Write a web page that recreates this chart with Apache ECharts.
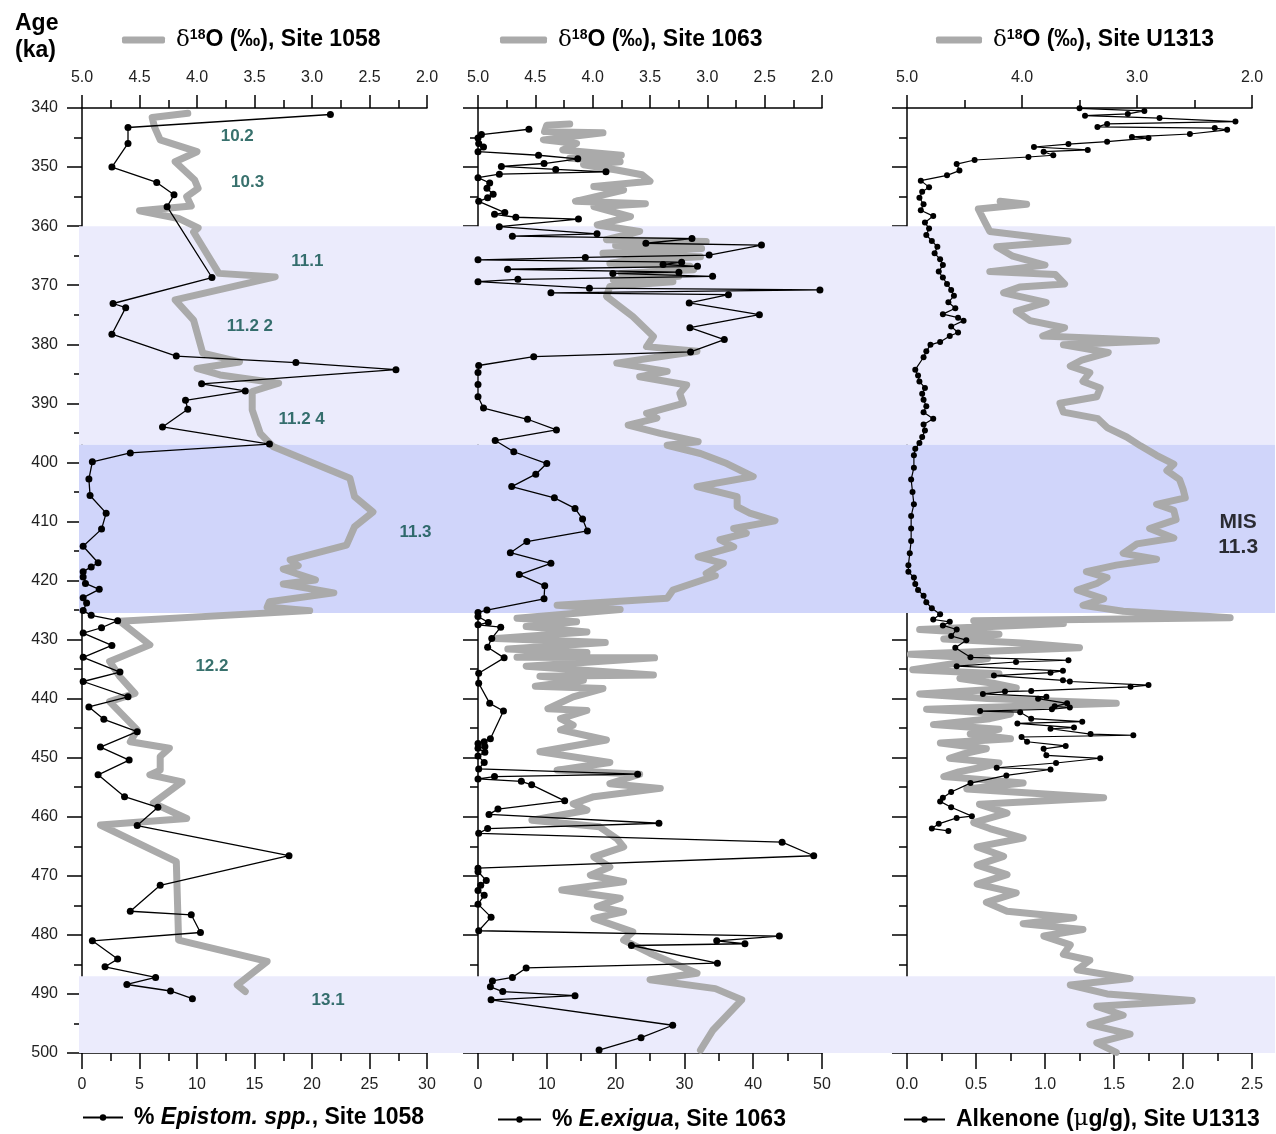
<!DOCTYPE html>
<html><head><meta charset="utf-8">
<script src="https://cdn.jsdelivr.net/npm/echarts@6/dist/echarts.min.js"></script>
<style>html,body{margin:0;padding:0;background:#fff}#c{width:1276px;height:1134px}</style>
</head><body><div id="c"></div>
<script>
// ---------------- DATA ----------------
// Site 1058 : % Epistominella spp.
const epiAge = [341.1,343.3,346.0,350.0,352.6,354.7,356.7,368.7,373.1,373.8,378.3,382.0,383.1,384.3,386.7,387.9,389.5,391.0,394.0,396.9,398.4,399.9,402.8,405.6,408.6,411.3,414.2,417.0,417.7,418.5,419.4,420.5,421.5,422.9,423.8,425.1,425.9,426.8,428.0,428.9,431.0,433.0,435.5,437.1,439.7,441.4,443.5,445.6,448.2,450.4,452.9,456.6,458.4,461.5,466.6,471.6,476.0,476.6,479.6,481.0,484.1,485.4,487.2,488.4,489.5,490.8];
const epiPct = [21.6,4.0,4.0,2.6,6.5,8.0,7.4,11.3,2.7,3.8,2.6,8.2,18.6,27.3,10.4,14.2,9.0,9.2,7.0,16.3,4.2,0.9,0.6,0.7,2.1,1.7,0.1,1.4,0.8,0.1,0.1,0.3,1.5,0.1,0.4,0.1,0.8,3.1,1.7,0.1,2.6,0.1,3.3,0.1,4.0,0.6,1.9,4.8,1.6,4.1,1.4,3.7,6.6,4.8,18.0,6.8,4.2,9.5,10.3,0.9,3.1,2.0,6.4,3.9,7.7,9.6];
// Site 1058 : d18O
const d1058Age = [340.9,341.6,343.2,345.4,347.4,349.1,352.2,353.6,355.0,356.6,357.4,358.7,360.3,361.0,368.0,368.6,372.5,375.9,381.5,383.0,384.1,385.2,386.6,388.0,391.1,395.1,397.3,402.7,405.8,408.4,410.9,414.0,416.5,417.5,418.1,419.9,420.6,422.1,423.6,424.5,425.1,426.9,430.9,433.7,436.3,439.1,440.5,445.3,447.3,448.4,449.8,452.1,452.9,454.1,457.7,460.3,461.4,467.6,480.9,484.5,488.5,489.6];
const d1058 = [4.08,4.39,4.37,4.32,4.00,4.19,4.02,3.99,4.09,4.05,4.50,4.16,3.99,4.03,3.81,3.32,4.19,4.03,3.95,3.63,4.00,3.80,3.29,3.52,3.52,3.45,3.34,2.67,2.63,2.47,2.63,2.70,3.19,3.12,3.25,2.97,3.25,2.81,3.37,3.39,3.02,4.67,4.41,4.76,4.67,4.54,4.76,4.52,4.58,4.24,4.32,4.32,4.41,4.13,4.38,4.09,4.84,4.18,4.16,3.39,3.65,3.58];
// Site 1063 : % E. exigua
const exiAge = [343.6,344.5,345.1,346.0,346.6,347.4,348.0,348.6,349.4,349.9,350.4,350.8,351.2,351.8,352.7,353.6,354.6,355.2,355.8,357.7,358.0,358.5,358.8,360.1,361.3,361.7,362.1,362.9,363.2,364.9,365.3,365.7,366.1,366.5,366.8,367.3,367.8,368.0,368.5,369.0,369.4,370.5,370.8,371.3,371.6,373.0,375.0,377.2,379.2,381.3,382.1,383.6,384.8,386.8,388.9,390.8,392.7,394.5,396.3,398.2,400.2,402.0,404.1,406.0,407.8,409.6,411.6,413.4,415.3,417.1,419.0,420.9,423.1,425.0,425.4,426.1,427.1,427.5,427.9,429.8,431.3,433.1,435.7,437.4,440.8,442.1,446.8,447.3,447.6,448.1,448.4,449.1,449.7,450.8,451.9,452.8,453.2,453.6,454.0,454.6,457.3,458.7,459.6,461.1,462.0,462.8,464.3,466.6,468.7,469.3,470.8,471.6,472.5,473.3,474.8,477.0,479.3,480.2,481.0,481.5,481.8,484.8,485.6,487.2,487.8,488.8,489.6,490.3,491.0,495.3,497.4,499.5];
const exiPct = [7.4,0.5,0.0,0.1,0.8,0.0,8.8,14.5,9.6,3.4,11.3,18.6,3.1,0.0,1.7,1.3,2.2,1.4,0.1,3.9,2.4,5.5,14.6,3.1,17.3,5.0,31.1,24.4,41.2,33.6,15.6,0.0,29.6,26.9,31.9,4.3,29.2,19.6,34.1,5.8,0.0,16.2,49.7,10.6,36.4,30.7,40.9,30.8,35.8,30.9,8.1,0.1,0.0,0.0,0.0,0.8,7.2,11.4,2.5,5.2,10.0,8.4,4.9,11.1,14.1,15.2,15.9,7.1,4.7,10.6,6.0,9.7,9.6,1.3,0.0,0.0,1.5,0.0,3.3,2.0,1.4,3.8,0.1,0.1,1.7,3.7,1.8,0.9,0.0,1.0,0.0,1.0,0.0,0.9,0.1,23.2,2.4,0.0,6.3,7.8,12.6,2.9,1.6,26.3,1.4,0.1,44.2,48.8,0.0,0.0,1.2,0.4,0.0,0.9,0.0,1.9,0.1,43.8,34.7,38.8,22.3,34.8,7.0,5.0,2.1,1.8,3.6,14.1,1.9,28.3,23.7,17.6];
// Site 1063 : d18O
const d1063Age = [342.7,342.9,344.0,344.2,345.4,346.0,347.1,348.0,348.5,349.1,349.6,350.5,351.3,352.4,353.3,353.9,355.8,356.2,356.7,358.4,359.8,360.9,362.3,362.6,363.3,363.8,364.6,365.2,365.8,366.3,366.8,367.4,368.0,368.5,369.1,369.4,370.2,371.9,375.3,378.7,380.4,381.2,383.2,384.6,385.5,386.9,388.3,390.0,391.7,392.5,393.7,395.1,396.5,397.1,398.5,400.2,402.4,404.1,405.8,407.5,408.6,409.9,411.2,412.0,413.1,414.3,416.0,417.1,418.8,419.2,421.6,423.0,424.2,424.9,426.4,427.0,427.8,428.7,429.8,430.5,431.6,432.2,433.0,433.1,434.5,436.0,436.2,436.9,437.9,438.3,439.7,441.7,442.0,443.4,444.5,445.3,447.0,449.0,450.8,452.1,452.8,454.4,455.2,456.6,457.8,458.9,460.6,461.7,463.7,465.1,466.8,468.5,469.9,471.0,472.4,473.8,475.2,476.1,477.2,479.5,480.9,483.1,486.5,487.6,489.1,491.0,496.1,499.5];
const d1063 = [4.20,4.40,4.42,3.91,4.43,4.14,4.26,3.75,4.20,3.76,4.08,3.79,3.57,3.50,3.99,3.73,4.15,3.54,3.99,3.67,3.96,3.59,3.88,3.01,3.80,3.05,3.91,3.06,3.70,3.85,3.15,3.12,3.75,3.25,3.82,3.30,3.85,3.88,3.65,3.47,3.53,3.09,3.79,3.35,3.59,3.18,3.24,3.21,3.53,3.44,3.69,3.41,3.08,3.35,3.06,2.83,2.60,3.09,2.74,2.74,2.63,2.41,2.77,2.66,2.89,2.77,3.08,2.86,3.01,2.93,3.30,3.35,4.31,3.76,4.66,4.14,4.58,4.05,4.84,3.89,4.74,4.05,4.66,3.46,4.58,3.47,4.46,4.08,4.50,3.91,4.17,4.39,4.05,4.28,4.17,4.28,3.88,4.46,3.85,4.31,3.59,3.85,3.41,3.99,4.17,4.05,4.53,3.94,3.79,3.73,3.99,3.85,4.02,3.73,4.27,3.76,3.96,3.73,3.99,3.65,3.73,3.50,3.09,3.50,2.93,2.70,2.95,3.06];
// Site U1313 : alkenone (ug/g)
const alkAge = [340.05,340.5,341.0,341.3,341.7,342.3,342.7,343.2,343.4,343.7,344.4,344.9,345.1,345.7,346.1,346.6,347.1,347.4,348.0,348.3,348.8,349.5,350.6,351.4,352.3,353.4,354.2,355.2,356.3,357.3,358.3,359.4,360.4,361.5,362.5,363.5,364.6,365.6,366.6,367.7,368.7,369.8,370.8,371.8,372.9,373.9,374.9,375.5,376.0,377.0,378.0,378.6,379.6,380.1,381.2,382.2,384.3,385.3,386.3,387.4,388.4,389.4,390.5,391.5,392.6,393.6,394.6,395.7,396.7,397.7,398.8,400.9,402.9,405.0,407.1,409.1,411.2,413.3,415.4,417.4,418.5,419.5,420.6,421.6,422.6,423.7,424.7,425.7,426.6,427.0,427.6,428.3,429.4,430.1,431.4,433.0,433.5,433.8,434.5,435.3,435.6,436.1,436.9,437.1,437.7,438.0,438.7,438.8,439.2,439.7,440.0,440.8,441.3,441.5,441.8,442.1,442.3,443.4,443.9,444.2,444.9,445.1,446.0,446.2,446.5,447.3,448.0,448.5,449.6,450.1,450.9,451.7,452.0,453.0,454.3,455.8,456.8,457.4,458.4,459.9,460.2,461.2,462.0,462.4];
const alkVal = [1.25,1.72,1.60,1.29,1.83,2.38,1.45,1.38,2.23,2.32,2.05,1.63,1.75,1.45,1.17,0.92,1.31,0.99,1.06,0.88,0.49,0.36,0.38,0.29,0.10,0.16,0.11,0.09,0.12,0.10,0.19,0.13,0.16,0.14,0.18,0.22,0.20,0.24,0.26,0.23,0.26,0.29,0.32,0.34,0.30,0.35,0.26,0.37,0.41,0.32,0.37,0.31,0.24,0.17,0.14,0.12,0.06,0.08,0.09,0.13,0.11,0.12,0.14,0.12,0.19,0.12,0.13,0.11,0.09,0.06,0.05,0.05,0.03,0.04,0.05,0.03,0.03,0.03,0.02,0.01,0.01,0.05,0.06,0.08,0.12,0.14,0.18,0.24,0.19,0.31,0.26,0.36,0.32,0.43,0.35,0.46,1.17,0.79,0.36,1.13,1.04,0.63,1.13,1.18,1.75,1.62,0.90,0.71,0.55,1.01,0.95,1.16,1.07,1.18,1.05,0.53,0.82,0.90,1.27,0.80,1.21,1.04,1.33,1.64,0.83,0.87,1.15,0.99,1.01,1.40,1.08,0.65,1.04,0.72,0.46,0.32,0.26,0.24,0.32,0.47,0.36,0.23,0.18,0.30];
// Site U1313 : d18O
const dU1313Age = [355.8,356.3,357.1,359.4,360.9,362.5,363.5,365.1,366.6,367.7,368.2,369.8,370.3,371.3,372.9,374.4,376.0,377.2,378.6,379.4,380.1,381.4,382.7,383.7,384.8,386.3,387.4,388.9,390.0,391.5,392.6,394.1,395.7,397.2,398.8,400.3,401.4,402.9,404.5,406.0,407.1,408.1,409.7,411.2,412.8,413.8,415.4,416.4,417.4,418.5,419.5,420.5,421.6,423.1,424.2,425.2,426.3,426.8,427.3,428.3,429.1,429.9,430.6,431.4,432.5,433.2,434.0,435.1,435.8,436.6,437.4,438.2,439.2,440.0,440.8,441.8,442.6,443.4,444.4,445.2,446.0,446.8,447.5,448.5,449.3,450.1,450.9,451.7,452.4,453.2,454.3,455.3,456.8,457.9,459.4,461.0,462.0,463.6,465.1,466.7,468.2,469.8,471.4,472.9,474.5,476.0,477.1,478.1,479.1,480.2,481.7,483.3,484.3,485.9,487.4,488.5,490.0,491.1,492.1,493.6,495.2,496.8,498.3,499.9];
const dU1313 = [4.19,3.96,4.38,4.32,4.28,3.60,4.22,4.08,3.80,4.28,3.71,3.63,4.02,4.16,3.79,4.05,3.93,3.63,3.82,2.83,3.64,3.25,3.48,3.58,3.41,3.47,3.32,3.35,3.67,3.64,3.34,3.26,3.09,2.97,2.83,2.68,2.74,2.63,2.60,2.58,2.83,2.68,2.66,2.89,2.68,3.00,3.12,2.83,3.18,3.44,3.26,3.35,3.52,3.29,3.47,3.12,2.19,4.42,3.64,4.89,4.20,4.68,4.00,3.50,4.97,4.30,4.57,4.95,4.20,4.54,4.25,4.05,4.89,4.30,3.18,4.83,4.10,4.28,4.77,4.20,4.45,4.10,4.71,4.31,4.50,4.63,4.20,4.37,4.55,4.68,3.99,4.48,3.29,4.37,4.13,4.42,4.28,3.99,4.39,4.16,4.39,4.13,4.39,4.05,4.31,4.13,3.55,3.99,3.47,3.81,3.58,3.64,3.41,3.52,3.06,3.58,3.26,2.52,3.35,3.12,3.41,3.06,3.35,3.18];
// Shaded intervals (ka) and their kind
const bandFrom = [360, 397, 487];
const bandTo   = [397, 425.5, 500];
const bandKind = ['light', 'dark', 'light'];
// Stage annotations, panel 1 (x in % units, age in ka)
const stageNames = ['10.2','10.3','11.1','11.2 2','11.2 4','11.3','12.2','13.1'];
const stageX     = [13.5, 14.4, 19.6, 14.6, 19.1, 29.0, 11.3, 21.4];
const stageAge   = [344.8, 352.5, 365.9, 377.0, 392.7, 411.8, 434.6, 491.0];
// Annotation panel 3
const misText = 'MIS\n11.3'; const misX = 2.40; const misAge = 412.2;
// Axis tick settings
const ageMin = 340, ageMax = 500, ageStep = 10;

// ---------------- CHART ----------------
const pair = (ages, vals) => ages.map((a, i) => [vals[i], a]);
const FONT = 'Liberation Sans, Arial, sans-serif';
const SERIF = 'DejaVu Serif, Liberation Serif, serif';
const blk = {color:'#000', width:1.5};
const gridTop = 108, gridH = 945;
const panels = [{left:82, width:345}, {left:478, width:344}, {left:907, width:345}];

const grids = panels.map(p => ({left:p.left, top:gridTop, width:p.width, height:gridH}));
grids.push({left:79, top:gridTop, width:1196, height:gridH});

function xBottom(g, min, max, interval, dec) {
  return {type:'value', gridIndex:g, position:'bottom', min, max, interval,
    axisLine:{show:true, onZero:false, lineStyle:blk},
    axisTick:{show:true, length:16, lineStyle:blk},
    minorTick:{show:true, splitNumber:2, length:8, lineStyle:blk},
    splitLine:{show:false}, minorSplitLine:{show:false},
    axisLabel:{margin:24, fontSize:16, color:'#222', fontFamily:FONT,
      formatter: v => v.toFixed(dec)}};
}
function xTop(g, interval) {
  return {type:'value', gridIndex:g, position:'top', inverse:true, min:2, max:5, interval,
    axisLine:{show:true, onZero:false, lineStyle:blk},
    axisTick:{show:true, length:13, lineStyle:blk},
    minorTick:{show:true, splitNumber:2, length:8, lineStyle:blk},
    splitLine:{show:false}, minorSplitLine:{show:false},
    axisLabel:{margin:22, fontSize:16, color:'#222', fontFamily:FONT,
      formatter: v => v.toFixed(1)}};
}
function yAge(g, labels) {
  return {type:'value', gridIndex:g, inverse:true, min:ageMin, max:ageMax, interval:ageStep,
    axisLine:{show:true, onZero:false, lineStyle:blk},
    axisTick:{show:true, length:15, lineStyle:blk},
    minorTick:{show:true, splitNumber:2, length:8, lineStyle:blk},
    splitLine:{show:false}, minorSplitLine:{show:false},
    axisLabel:{show:labels, margin:24, fontSize:16, color:'#222', fontFamily:FONT}};
}

const xAxes = [
  xBottom(0, 0, 30, 5, 0), xTop(0, 0.5),
  xBottom(1, 0, 50, 10, 0), xTop(1, 0.5),
  xBottom(2, 0, 2.5, 0.5, 1), xTop(2, 1.0),
  {type:'value', gridIndex:3, min:0, max:1, show:false}
];
const yAxes = [yAge(0, true), yAge(1, false), yAge(2, false),
  {type:'value', gridIndex:3, inverse:true, min:ageMin, max:ageMax, show:false}];

const GREY = '#aaaaaa';
const greyLine = {color:GREY, width:7, cap:'round', join:'round'};
const bandColors = {light:'#ebebfc', dark:'#d0d5fa'};

const names = {
  g1:'d18O 1058', b1:'Epistom 1058', g2:'d18O 1063', b2:'Exigua 1063', g3:'d18O U1313', b3:'Alkenone U1313'
};

const series = [
  {type:'scatter', xAxisIndex:6, yAxisIndex:3, data:[[0, ageMin]], symbolSize:0, z:-1, silent:true,
    markArea:{silent:true, data: bandFrom.map((f, i) => [
      {yAxis:f, itemStyle:{color:bandColors[bandKind[i]]}}, {yAxis:bandTo[i]}])}},
  {type:'line', name:names.g1, xAxisIndex:1, yAxisIndex:0, data:pair(d1058Age, d1058), symbol:'none', lineStyle:greyLine, itemStyle:{color:GREY}},
  {type:'line', name:names.b1, xAxisIndex:0, yAxisIndex:0, data:pair(epiAge, epiPct), symbol:'circle', symbolSize:7, itemStyle:{color:'#000'}, lineStyle:{color:'#000', width:1.3}},
  {type:'line', name:names.g2, xAxisIndex:3, yAxisIndex:1, data:pair(d1063Age, d1063), symbol:'none', lineStyle:greyLine, itemStyle:{color:GREY}},
  {type:'line', name:names.b2, xAxisIndex:2, yAxisIndex:1, data:pair(exiAge, exiPct), symbol:'circle', symbolSize:7, itemStyle:{color:'#000'}, lineStyle:{color:'#000', width:1.3}},
  {type:'line', name:names.g3, xAxisIndex:5, yAxisIndex:2, data:pair(dU1313Age, dU1313), symbol:'none', lineStyle:greyLine, itemStyle:{color:GREY}},
  {type:'line', name:names.b3, xAxisIndex:4, yAxisIndex:2, data:pair(alkAge, alkVal), symbol:'circle', symbolSize:6, itemStyle:{color:'#000'}, lineStyle:{color:'#000', width:1.2}},
  {type:'scatter', xAxisIndex:0, yAxisIndex:0, symbolSize:0, silent:true, z:5,
    data: stageNames.map((n, i) => ({name:n, value:[stageX[i], stageAge[i]]})),
    label:{show:true, position:'inside', formatter: p => p.name, color:'#064e49', fontSize:17, fontWeight:'bold', fontFamily:FONT}},
  {type:'scatter', xAxisIndex:4, yAxisIndex:2, symbolSize:0, silent:true, z:5,
    data: [{name:misText, value:[misX, misAge]}],
    label:{show:true, position:'inside', formatter: p => p.name, color:'#000', fontSize:21, lineHeight:25, fontWeight:'bold', fontFamily:FONT, align:'center'}}
];

const FS = 23;
const richBase = {
  b:{fontSize:FS, fontWeight:'bold', fontFamily:FONT, color:'#000'},
  p:{fontSize:FS, fontWeight:'bold', fontFamily:FONT, color:'#000', padding:[0,0,0,6]},
  d:{fontSize:FS, fontWeight:'normal', fontFamily:SERIF, color:'#000', padding:[0,0,0,6]},
  s:{fontSize:14, fontWeight:'bold', fontFamily:FONT, color:'#000', verticalAlign:'top', lineHeight:24},
  i:{fontSize:FS, fontWeight:'bold', fontStyle:'italic', fontFamily:FONT, color:'#000'},
  m:{fontSize:FS, fontWeight:'normal', fontFamily:SERIF, color:'#000'}
};
function legend(name, left, top, w, h, text, icon) {
  const l = {data:[name], left, top, itemWidth:w, itemHeight:h, selectedMode:false, padding:0,
    formatter: () => text, textStyle:{rich:richBase, fontSize:FS, fontWeight:'bold', fontFamily:FONT, color:'#000'}};
  if (icon) l.icon = icon;
  return l;
}
const legends = [
  legend(names.g1, 122, 28, 43, 7, '{d|δ}{s|18}{b|O (‰), Site 1058}', 'roundRect'),
  legend(names.g2, 500, 28, 47, 7, '{d|δ}{s|18}{b|O (‰), Site 1063}', 'roundRect'),
  legend(names.g3, 936, 28, 46, 7, '{d|δ}{s|18}{b|O (‰), Site U1313}', 'roundRect'),
  legend(names.b1, 82, 1106, 40, 8, '{p|% }{i|Epistom. spp.}{b|, Site 1058}'),
  legend(names.b2, 497, 1108, 43, 8, '{p|% }{i|E.exigua}{b|, Site 1063}'),
  legend(names.b3, 903, 1108, 41, 8, '{p|Alkenone (}{m|μ}{b|g/g), Site U1313}')
];

const chart = echarts.init(document.getElementById('c'), null, {renderer:'canvas'});
chart.setOption({
  animation:false,
  backgroundColor:'#fff',
  title:{text:'Age\n(ka)', left:10, top:5, textStyle:{fontSize:23, fontWeight:'bold', fontFamily:FONT, color:'#000', lineHeight:27}},
  grid:grids, xAxis:xAxes, yAxis:yAxes, legend:legends, series
});
</script></body></html>
